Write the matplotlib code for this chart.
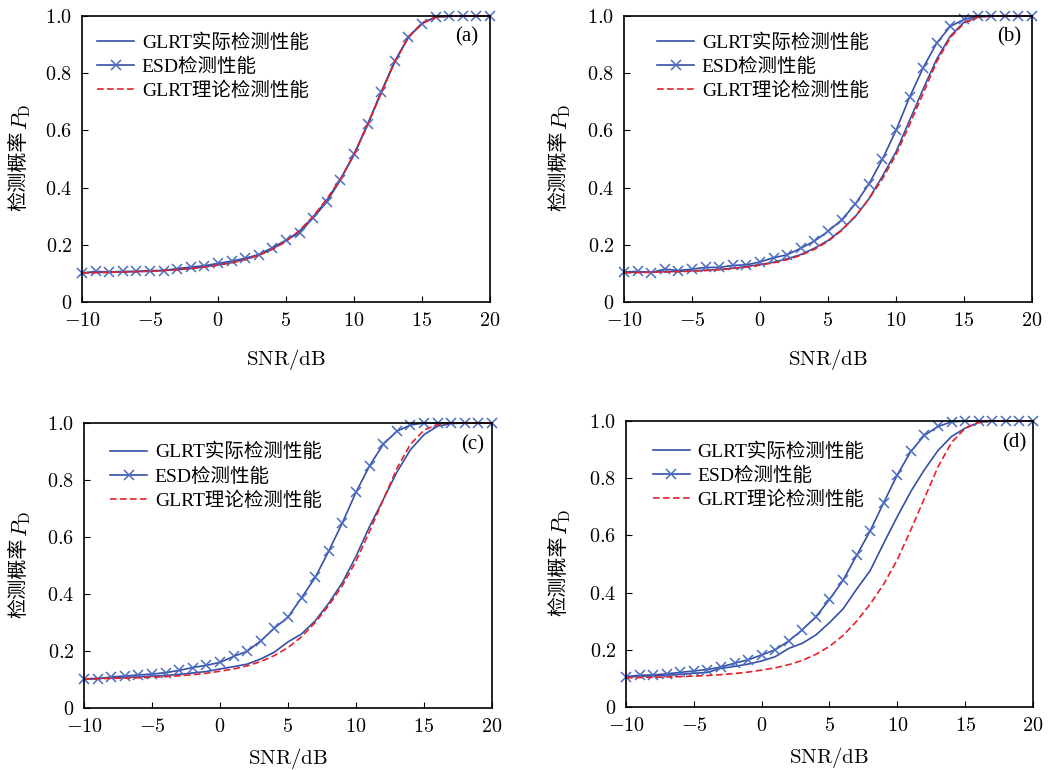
import numpy as np
import matplotlib
matplotlib.use('Agg')
import matplotlib.pyplot as plt

plt.rcParams['font.family'] = ['Liberation Serif', 'Noto Sans CJK SC', 'DejaVu Sans']
plt.rcParams['mathtext.fontset'] = 'cm'

snr = list(range(-10, 21))

# theoretical GLRT curve (same in every panel)
theory = [0.102, 0.103, 0.104, 0.105, 0.106, 0.108, 0.110, 0.113, 0.117, 0.122,
          0.129, 0.137, 0.148, 0.163, 0.184, 0.212, 0.250, 0.300, 0.360, 0.430,
          0.515, 0.620, 0.730, 0.840, 0.925, 0.975, 0.995, 1.0, 1.0, 1.0, 1.0]

glrt_a = [0.102, 0.103, 0.104, 0.105, 0.106, 0.108, 0.110, 0.113, 0.117, 0.123,
          0.130, 0.138, 0.149, 0.164, 0.186, 0.214, 0.248, 0.298, 0.356, 0.428,
          0.515, 0.620, 0.732, 0.840, 0.926, 0.975, 0.996, 1.0, 1.0, 1.0, 1.0]
esd_a = [0.101, 0.107, 0.105, 0.107, 0.107, 0.110, 0.110, 0.117, 0.122, 0.127,
         0.135, 0.143, 0.153, 0.166, 0.190, 0.216, 0.242, 0.294, 0.350, 0.427,
         0.517, 0.621, 0.735, 0.842, 0.926, 0.973, 0.997, 1.0, 1.0, 1.0, 1.0]

glrt_b = [0.103, 0.104, 0.105, 0.106, 0.107, 0.109, 0.111, 0.114, 0.118, 0.124,
          0.131, 0.139, 0.151, 0.166, 0.188, 0.215, 0.252, 0.298, 0.360, 0.440,
          0.525, 0.635, 0.745, 0.850, 0.930, 0.978, 0.996, 1.0, 1.0, 1.0, 1.0]
esd_b = [0.105, 0.107, 0.103, 0.115, 0.110, 0.115, 0.121, 0.121, 0.128, 0.130,
         0.140, 0.155, 0.165, 0.188, 0.213, 0.247, 0.287, 0.342, 0.412, 0.499,
         0.600, 0.716, 0.819, 0.906, 0.964, 0.988, 1.0, 1.0, 1.0, 1.0, 1.0]

glrt_c = [0.102, 0.104, 0.105, 0.107, 0.109, 0.112, 0.114, 0.118, 0.123, 0.128,
          0.137, 0.145, 0.154, 0.172, 0.196, 0.232, 0.260, 0.306, 0.368, 0.440,
          0.532, 0.637, 0.731, 0.827, 0.906, 0.959, 0.989, 0.998, 1.0, 1.0, 1.0]
esd_c = [0.102, 0.102, 0.109, 0.112, 0.116, 0.119, 0.124, 0.132, 0.142, 0.150,
         0.160, 0.181, 0.199, 0.236, 0.280, 0.319, 0.387, 0.458, 0.551, 0.650,
         0.757, 0.850, 0.925, 0.971, 0.993, 1.0, 1.0, 1.0, 1.0, 1.0, 1.0]

glrt_d = [0.105, 0.107, 0.109, 0.111, 0.114, 0.118, 0.121, 0.135, 0.142, 0.150,
          0.161, 0.176, 0.205, 0.223, 0.252, 0.295, 0.343, 0.412, 0.477, 0.573,
          0.666, 0.754, 0.830, 0.897, 0.946, 0.975, 0.995, 1.0, 1.0, 1.0, 1.0]
esd_d = [0.106, 0.111, 0.112, 0.116, 0.121, 0.126, 0.131, 0.140, 0.153, 0.165,
         0.182, 0.200, 0.231, 0.270, 0.316, 0.376, 0.443, 0.530, 0.616, 0.715,
         0.812, 0.894, 0.950, 0.981, 0.997, 1.0, 1.0, 1.0, 1.0, 1.0, 1.0]

panels = ['(a)', '(b)', '(c)', '(d)']
glrt_all = [glrt_a, glrt_b, glrt_c, glrt_d]
esd_all = [esd_a, esd_b, esd_c, esd_d]

xticks = [-10, -5, 0, 5, 10, 15, 20]
xticklabels = ['$-10$', '$-5$', '$0$', '$5$', '$10$', '$15$', '$20$']
yticks = [0, 0.2, 0.4, 0.6, 0.8, 1.0]
yticklabels = ['$0$', '$0.2$', '$0.4$', '$0.6$', '$0.8$', '$1.0$']

names = ['GLRT实际检测性能', 'ESD检测性能', 'GLRT理论检测性能']

W, H = 1049, 770
boxes = [(82, 302, 408, 286), (624, 302, 408, 286), (84, 708, 408, 285), (626, 707, 407, 286)]
leg_pos = [(0.037, 0.94), (0.081, 0.94), (0.064, 0.93), (0.066, 0.925)]
tag_pos = [(0.944, 0.927), (0.944, 0.927), (0.953, 0.923), (0.953, 0.925)]
ylab_x = [-0.152, -0.157, -0.157, -0.162]
xpads = [12, 12, 7, 7]

fig = plt.figure(figsize=(W / 100, H / 100), dpi=100)

for i in range(4):
    l, b, w, h = boxes[i]
    ax = fig.add_axes([l / W, (H - b) / H, w / W, h / H])
    ax.plot(snr, glrt_all[i], color='#3550a6', lw=1.2, label=names[0], clip_on=False)
    ax.plot(snr, esd_all[i], color='#3550a6', lw=1.2, marker='x', ms=7, mew=1.1,
            mec='#4a6cc4', label=names[1], clip_on=False)
    ax.plot(snr, theory, color='#e8202a', lw=1.2, ls=(0, (4, 2)), label=names[2], clip_on=False)
    ax.set_xlim(-10, 20)
    ax.set_ylim(0, 1.0)
    ax.set_xticks(xticks)
    ax.set_xticklabels(xticklabels, fontsize=14.5)
    ax.set_yticks(yticks)
    ax.set_yticklabels(yticklabels, fontsize=14.5)
    ax.tick_params(direction='in', length=4, width=0.8, pad=7)
    for s in ax.spines.values():
        s.set_linewidth(1.2)
    ax.set_xlabel('$\\mathrm{SNR/dB}$', fontsize=15, labelpad=xpads[i])
    # y label: Chinese part + math part
    ax.text(ylab_x[i], 0.6, '检测概率', rotation=90, transform=ax.transAxes,
            ha='center', va='top', fontsize=14.5)
    ax.text(ylab_x[i] + 0.004, 0.6, '$P_\\mathrm{D}$', rotation=90, transform=ax.transAxes,
            ha='center', va='bottom', fontsize=15.5)
    ax.legend(loc='upper left', bbox_to_anchor=leg_pos[i], frameon=False, fontsize=14,
              borderpad=0, borderaxespad=0, handlelength=1.9, handletextpad=0.4,
              labelspacing=0.3)
    ax.text(tag_pos[i][0], tag_pos[i][1], panels[i], transform=ax.transAxes,
            ha='center', va='center', fontsize=15)

fig.savefig('out.png', dpi=100)
